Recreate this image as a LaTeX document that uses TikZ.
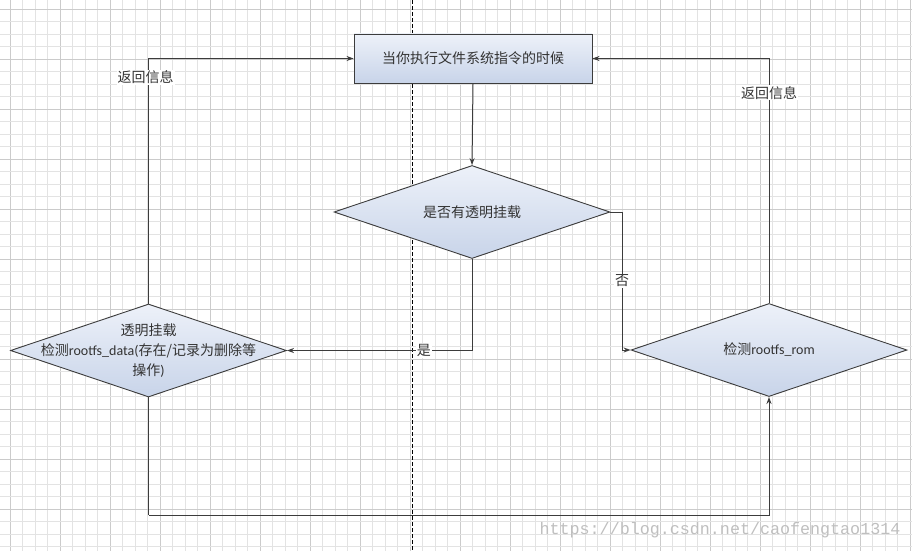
\documentclass[tikz,border=0pt]{standalone}
\usepackage{fontspec}
\setmainfont{Carlito}
\newfontfamily\cjk{Noto Sans CJK SC}
\newfontfamily\wmfont{Liberation Mono}
\usetikzlibrary{shapes.geometric,arrows.meta}
\definecolor{gridminor}{HTML}{E3E3E3}
\definecolor{gridmajor}{HTML}{CBCBCB}
\definecolor{edgec}{HTML}{3C3C3C}
\definecolor{txtc}{HTML}{333333}
\definecolor{filltop}{HTML}{EDF1F9}
\definecolor{fillbot}{HTML}{C8D4E9}
\tikzset{
  box/.style={draw=edgec, line width=0.9pt, top color=filltop, bottom color=fillbot, inner sep=0pt},
  dia/.style={box, diamond, minimum width=276pt, minimum height=93pt},
  txt/.style={text=txtc, font=\fontsize{14pt}{20pt}\selectfont, align=center},
  conn/.style={draw=edgec, line width=1pt, -{Stealth[length=7pt,width=5pt]}},
  plain/.style={draw=edgec, line width=1pt},
  lbl/.style={fill=white, inner sep=1pt, text=txtc, font=\fontsize{14pt}{16pt}\selectfont\cjk},
}
\begin{document}
\begin{tikzpicture}[x=1pt,y=-1pt]
\useasboundingbox (0,0) rectangle (912,551);
\fill[white] (0,0) rectangle (912,551);
% grid
\foreach \k in {0,...,72} {
  \pgfmathsetmacro\xx{10+12.5*\k}
  \pgfmathtruncatemacro\m{mod(\k,4)}
  \ifnum\m=0 \draw[gridmajor,line width=0.8pt] (\xx,0) -- (\xx,551);
  \else \draw[gridminor,line width=0.8pt] (\xx,0) -- (\xx,551); \fi
}
\foreach \k in {0,...,43} {
  \pgfmathsetmacro\yy{9+12.5*\k}
  \pgfmathtruncatemacro\m{mod(\k,4)}
  \ifnum\m=0 \draw[gridmajor,line width=0.8pt] (0,\yy) -- (912,\yy);
  \else \draw[gridminor,line width=0.8pt] (0,\yy) -- (912,\yy); \fi
}
% dashed separator
\draw[black, line width=0.9pt, dash pattern=on 4pt off 2pt] (412,0) -- (412,551);

% nodes
\node[box, rectangle, minimum width=238pt, minimum height=49pt, txt] (start) at (473,58.5) {\cjk 当你执行文件系统指令的时候};
\node[dia] (q) at (472,212) {};
\node[txt] (qt) at (q.center) {\cjk 是否有透明挂载};
\node[dia] (left) at (148.5,350.5) {};
\node[txt] (lt) at (left.center) {{\cjk 透明挂载}\\{\cjk 检测}rootfs\_data({\cjk 存在/记录为删除等}\\{\cjk 操作})};
\node[dia] (right) at (769,350) {};
\node[txt] (rt) at (right.center) {{\cjk 检测}rootfs\_rom};

\coordinate (nb) at (622,212);
\coordinate (bl) at (148.5,515);

% connectors
\draw[conn] (start.south) -- (q.north);
\draw[conn] (q.south) |- node[lbl, pos=0.63] {是} (left.east);
\draw[conn] (q.east) -- (nb) |- node[lbl, pos=0.25] {否} (right.west);
\draw[conn] (left.north) |- node[lbl, pos=0.462, xshift=-3pt] {返回信息} (start.west);
\draw[conn] (right.north) |- node[lbl, pos=0.43] {返回信息} (start.east);
\draw[plain] (left.south) -- (bl);
\draw[conn] (bl) -| (right.south);

% watermark
\node[text=black!25, font=\fontsize{16.7pt}{18pt}\wmfont, inner sep=0pt] (wm) at (720,530) {https://blog.csdn.net/caofengtao1314};
\end{tikzpicture}
\end{document}
